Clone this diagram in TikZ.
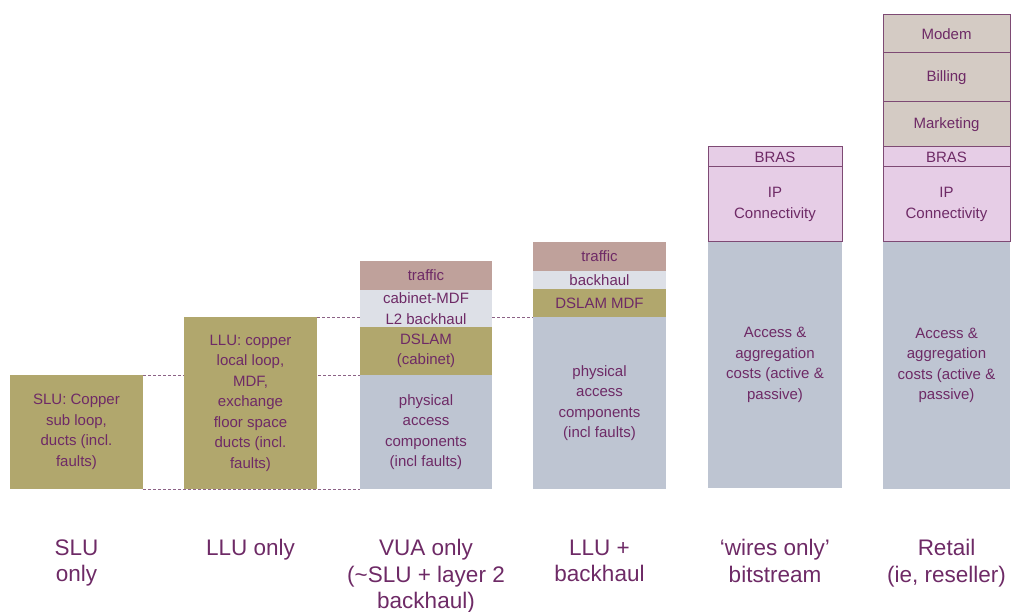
\documentclass[tikz,border=0pt]{standalone}
\usepackage{fontspec}
\setmainfont{Liberation Sans}
\usetikzlibrary{backgrounds}
\definecolor{olive}{HTML}{B1A76D}
\definecolor{accessgrey}{HTML}{BEC5D2}
\definecolor{trafficrose}{HTML}{BFA19B}
\definecolor{paleblue}{HTML}{DDE0E7}
\definecolor{lilac}{HTML}{E6CDE6}
\definecolor{taupe}{HTML}{D4CBC4}
\definecolor{ink}{HTML}{6E2A66}
\definecolor{edge}{HTML}{7E4A74}
\definecolor{dashc}{HTML}{8C6286}
\tikzset{
  layer/.style={rectangle, inner sep=0pt, outer sep=0pt, anchor=north west,
    align=center, text=ink, font=\fontsize{15}{20.5}\selectfont},
  framed/.style={layer, draw=edge, line width=1pt},
  caption/.style={align=center, text=ink, anchor=north,
    font=\fontsize{22.5}{26.5}\selectfont},
  level/.style={draw=dashc, dash pattern=on 3pt off 2pt, line width=0.8pt},
}
\begin{document}
\begin{tikzpicture}[x=1pt,y=-1pt]
\useasboundingbox (0,0) rectangle (1011,612);

% SLU only
\node[layer, fill=olive, minimum width=133pt, minimum height=114pt] (slu) at (10,375)
  {SLU: Copper\\sub loop,\\ducts (incl.\\faults)};

% LLU only
\node[layer, fill=olive, minimum width=133pt, minimum height=172pt] (llu) at (184,317)
  {LLU: copper\\local loop,\\MDF,\\exchange\\floor space\\ducts (incl.\\faults)};

% VUA only
\node[layer, fill=accessgrey, minimum width=132pt, minimum height=114pt] (vuaphys) at (360,375)
  {physical\\access\\components\\(incl faults)};
\node[layer, fill=olive, minimum width=132pt, minimum height=48pt] (vuadslam) at (360,327)
  {DSLAM\\(cabinet)};
\node[layer, fill=paleblue, minimum width=132pt, minimum height=37pt] (vuacab) at (360,290)
  {cabinet-MDF\\L2 backhaul};
\node[layer, fill=trafficrose, minimum width=132pt, minimum height=29pt] (vuatraffic) at (360,261)
  {traffic};

% LLU + backhaul
\node[layer, fill=accessgrey, minimum width=133pt, minimum height=172pt] (bhphys) at (533,317)
  {physical\\access\\components\\(incl faults)};
\node[layer, fill=olive, minimum width=133pt, minimum height=28pt] (bhdslam) at (533,289)
  {DSLAM MDF};
\node[layer, fill=paleblue, minimum width=133pt, minimum height=18pt] (bhback) at (533,271)
  {backhaul};
\node[layer, fill=trafficrose, minimum width=133pt, minimum height=29pt] (bhtraffic) at (533,242)
  {traffic};

% 'wires only' bitstream
\node[layer, fill=accessgrey, minimum width=134pt, minimum height=246pt] (wacc) at (708,242)
  {Access \&\\aggregation\\costs (active \&\\passive)};
\node[framed, fill=lilac, minimum width=134pt, minimum height=75pt] (wip) at (708,167)
  {IP\\Connectivity};
\node[framed, fill=lilac, minimum width=134pt, minimum height=20pt] (wbras) at (708,147)
  {BRAS};

% Retail
\node[layer, fill=accessgrey, minimum width=127pt, minimum height=247pt] (racc) at (883,242)
  {Access \&\\aggregation\\costs (active \&\\passive)};
\node[framed, fill=lilac, minimum width=127pt, minimum height=75pt] (rip) at (883,167)
  {IP\\Connectivity};
\node[framed, fill=lilac, minimum width=127pt, minimum height=20pt] (rbras) at (883,147)
  {BRAS};
\node[framed, fill=taupe, minimum width=127pt, minimum height=45pt] (rmkt) at (883,102)
  {Marketing};
\node[framed, fill=taupe, minimum width=127pt, minimum height=49pt] (rbill) at (883,53)
  {Billing};
\node[framed, fill=taupe, minimum width=127pt, minimum height=38pt] (rmodem) at (883,15)
  {Modem};

% level guides behind the stacks
\begin{scope}[on background layer]
\draw[level] (slu.north east) -- (vuaphys.north west);
\draw[level] (slu.south east) -- (vuaphys.south west);
\draw[level] (llu.north east) -- (llu.north east -| vuacab.west);
\draw[level] (vuacab.east |- llu.north east) -- (bhphys.north west);
\end{scope}

% column captions
\node[caption] (c1) at (slu.center |- 0,536) {SLU\\only};
\node[caption] (c2) at (llu.center |- 0,536) {LLU only};
\node[caption] (c3) at (vuaphys.center |- 0,536) {VUA only\\(\textasciitilde SLU + layer 2\\backhaul)};
\node[caption] (c4) at (bhphys.center |- 0,536) {LLU +\\backhaul};
\node[caption] (c5) at (wacc.center |- 0,536) {‘wires only’\\bitstream};
\node[caption] (c6) at (racc.center |- 0,536) {Retail\\(ie, reseller)};
\end{tikzpicture}
\end{document}
